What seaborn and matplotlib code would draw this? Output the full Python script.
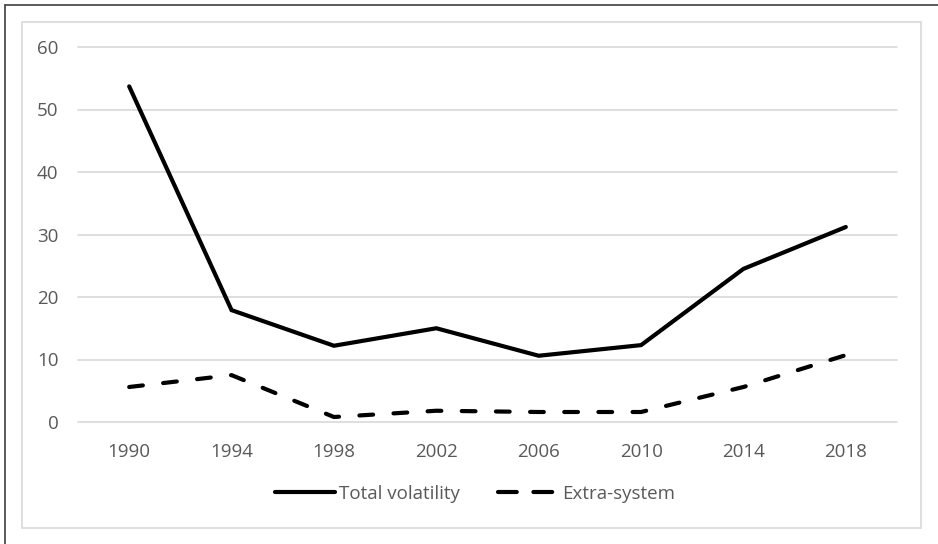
import matplotlib
matplotlib.use("Agg")
import matplotlib.pyplot as plt
import seaborn as sns
import pandas as pd
from matplotlib.lines import Line2D

years = ["1990", "1994", "1998", "2002", "2006", "2010", "2014", "2018"]
total_volatility = [53.7, 17.9, 12.2, 15.0, 10.6, 12.3, 24.5, 31.2]
extra_system = [5.6, 7.5, 0.8, 1.8, 1.6, 1.6, 5.6, 10.7]
series_names = ["Total volatility", "Extra-system"]
y_ticks = [0, 10, 20, 30, 40, 50, 60]

df = pd.DataFrame({
    "year": years * 2,
    "value": total_volatility + extra_system,
    "series": [series_names[0]] * len(years) + [series_names[1]] * len(years),
})

sns.set_theme(style="white")
plt.rcParams["font.family"] = ["Open Sans", "DejaVu Sans"]
text_col = "#595959"
grid_col = "#d9d9d9"
fs = 13.5

fig = plt.figure(figsize=(9.38, 5.44), dpi=100)
ax = fig.add_axes([78 / 938, 1 - 422 / 544, (897 - 78) / 938, (422 - 47) / 544])

sns.lineplot(data=df, x="year", y="value", hue="series", style="series",
             palette=["black", "black"], dashes={series_names[0]: "", series_names[1]: (3.3, 4.9)},
             linewidth=3.0, ax=ax, legend=False, sort=False)
for ln in ax.get_lines():
    ln.set_solid_capstyle("round")
    ln.set_dash_capstyle("round")
    ln.set_solid_joinstyle("miter")

ax.set_xlim(-0.5, len(years) - 0.5)
ax.set_ylim(0, 60)
ax.set_yticks(y_ticks)
ax.set_xlabel("")
ax.set_ylabel("")
for s in ax.spines.values():
    s.set_visible(False)
ax.yaxis.grid(True, color=grid_col, linewidth=1.2)
ax.set_axisbelow(True)
for gl in ax.get_ygridlines():
    gl.set_clip_on(False)
ax.tick_params(axis="both", length=0, labelsize=fs, labelcolor=text_col)
ax.tick_params(axis="y", pad=14)
ax.tick_params(axis="x", pad=15)

handles = [Line2D([], [], color="black", linewidth=3.0, solid_capstyle="round"),
           Line2D([], [], color="black", linewidth=3.0, linestyle=(0, (4.5, 4.0)), dash_capstyle="round")]
leg = fig.legend(handles, series_names, loc="center", bbox_to_anchor=(475 / 938, 1 - 494 / 544),
                 ncol=2, frameon=False, fontsize=fs, handlelength=3.2, handletextpad=0.25,
                 columnspacing=2.0)
for t in leg.get_texts():
    t.set_color(text_col)

# inner light frame and outer dark border
fig.add_artist(plt.Rectangle((22 / 938, 1 - 528 / 544), (921 - 22) / 938, (528 - 22) / 544,
                             transform=fig.transFigure, fill=False, edgecolor=grid_col, linewidth=1.2))
fig.add_artist(Line2D([5 / 938, 5 / 938], [0, 1 - 5 / 544], transform=fig.transFigure, color="#404040", linewidth=1.2))
fig.add_artist(Line2D([5 / 938, 1], [1 - 5 / 544, 1 - 5 / 544], transform=fig.transFigure, color="#404040", linewidth=1.2))

fig.savefig("out.png", dpi=100, facecolor="white")
